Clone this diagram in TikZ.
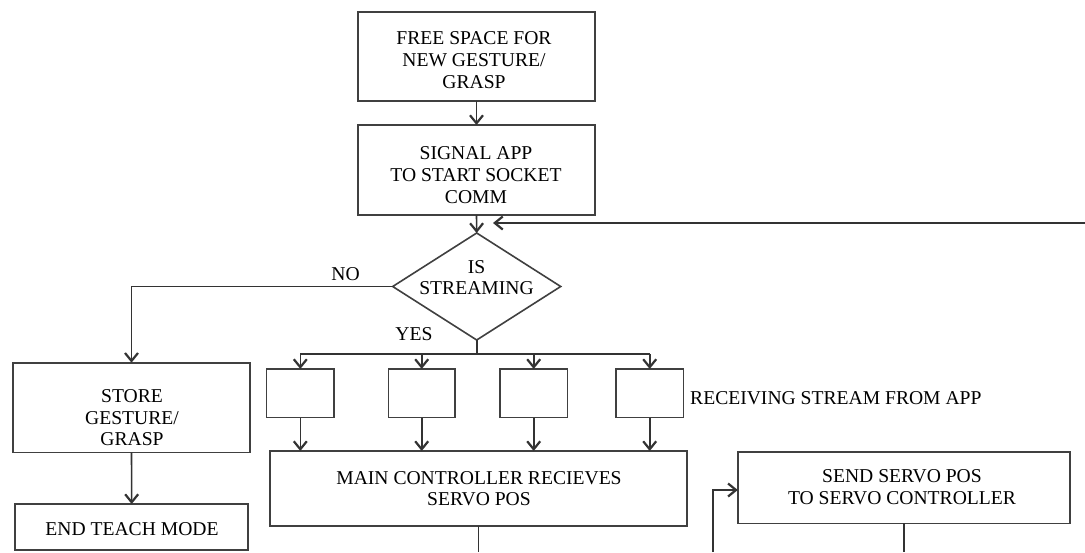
\documentclass[tikz,border=0pt]{standalone}
\usepackage{fontspec}
\setmainfont{Liberation Serif}
\usetikzlibrary{arrows.meta,shapes.geometric}
\begin{document}
\begin{tikzpicture}[x=1pt,y=-1pt,
  box/.style={draw=black!75, line width=1.6pt, inner sep=0pt, outer sep=0pt},
  txt/.style={inner sep=0pt, align=center, font=\fontsize{19.6}{21.7}\selectfont},
  ln/.style={draw=black!80, line width=1.6pt},
  arr/.style={draw=black!80, line width=1.6pt, -{Straight Barb[length=8pt,width=13pt,line width=2.2pt]}}]
\fill[white] (0,0) rectangle (1085,552);
\useasboundingbox (0,0) rectangle (1085,552);

% boxes
\node[box, minimum width=237pt, minimum height=89pt] (b1) at (476.5,56.2) {};
\node[box, minimum width=237pt, minimum height=90pt] (b2) at (476.5,170) {};
\node[box, diamond, minimum width=168pt, minimum height=107pt] (d) at (476.7,286.5) {};
\node[box, minimum width=237pt, minimum height=89.6pt] (store) at (131.5,407.5) {};
\node[box, minimum width=233pt, minimum height=46pt] (end) at (131.7,527) {};
\node[box, minimum width=67.3pt, minimum height=48.7pt] (s1) at (300.3,393.3) {};
\node[box, minimum width=66.7pt, minimum height=48.7pt] (s2) at (421.7,393.3) {};
\node[box, minimum width=67.3pt, minimum height=48.7pt] (s3) at (533.7,393.3) {};
\node[box, minimum width=67.3pt, minimum height=48.7pt] (s4) at (649.7,393.3) {};
\node[box, minimum width=417pt, minimum height=75pt] (main) at (478.6,488.5) {};
\node[box, minimum width=332pt, minimum height=71.6pt] (send) at (903.8,487.5) {};

% texts
\node[txt] (t1) at (474,60.2) {FREE SPACE FOR\\NEW GESTURE/\\GRASP};
\node[txt] (t2) at (476,175.2) {SIGNAL APP\\TO START SOCKET\\COMM};
\node[txt] (td) at (476.5,277.7) {IS\\STREAMING};
\node[txt] (tstore) at (132,417.7) {STORE\\GESTURE/\\GRASP};
\node[txt] (tend) at (132,528.7) {END TEACH MODE};
\node[txt] (tmain) at (479,488.7) {MAIN CONTROLLER RECIEVES\\SERVO POS};
\node[txt] (tsend) at (902,487.5) {SEND SERVO POS\\TO SERVO CONTROLLER};
\node[txt] (no) at (345.5,273.7) {NO};
\node[txt] (yes) at (414,333.7) {YES};
\node[txt, anchor=west] (recv) at (690,397.7) {RECEIVING STREAM FROM APP};

% coordinates
\coordinate (loopstart) at (1085,223);
\coordinate (loopend) at (493,223);
\coordinate (bus) at (476.7,354);
\coordinate (mainout) at (478.6,552);
\coordinate (sendin) at (712.7,552);
\coordinate (sendout) at (903.8,552);

% connectors
\draw[arr] (b1.south) -- (b2.north);
\draw[arr] (b2.south) -- (d.north);
\draw[arr] (loopstart) -- (loopend);
\draw[arr] (d.west) -| (store.north);
\draw[arr] (store.south) -- (end.north);
\draw[ln] (d.south) -- (bus);
\draw[ln] (s1.north |- bus) -- (s4.north |- bus);
\foreach \s in {s1,s2,s3,s4}{
  \draw[arr] (\s.north |- bus) -- (\s.north);
  \draw[arr] (\s.south) -- (\s.south |- main.north);
}
\draw[ln] (main.south) -- (mainout);
\draw[arr] (sendin) |- ([yshift=-2.5pt]send.west);
\draw[ln] (send.south) -- (sendout);
\end{tikzpicture}
\end{document}
